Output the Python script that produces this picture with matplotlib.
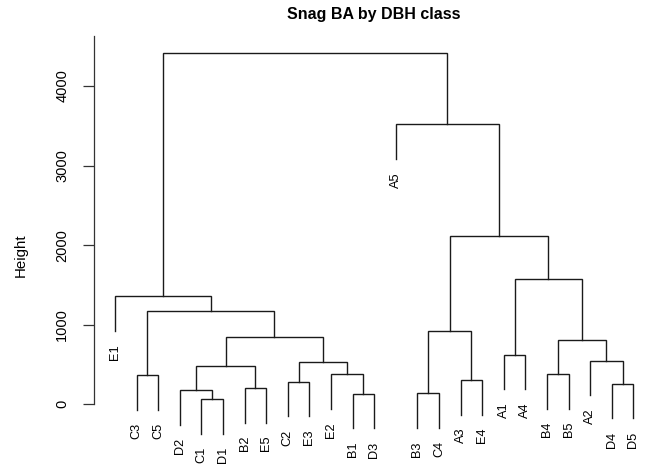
import matplotlib
matplotlib.use("Agg")
import matplotlib.pyplot as plt

# Agglomeration steps: each step joins two members (a leaf name or the
# 1-based number of an earlier step) at the given height.
merge_left = ["C1", "B1", "B3", "D2", "B2", "D4", "C2", "A3", "C3", "E2", "B4", 4,
              7, "A2", "A1", 11, 12, 3, 9, "E1", 15, 18, "A5", 20]
merge_right = ["D1", "D3", "C4", 1, "E5", "D5", "E3", "E4", "C5", 2, "B5", 5,
               10, 6, "A4", 14, 13, 8, 17, 19, 16, 21, 22, 23]
merge_height = [66, 134, 138, 176, 205, 259, 284, 305, 368, 377, 380, 481,
                535, 548, 623, 812, 849, 921, 1176, 1360, 1574, 2114, 3521, 4417]

y_ticks = [0, 1000, 2000, 3000, 4000]
hang = 0.1

plt.rcParams["font.family"] = ["Liberation Sans", "DejaVu Sans"]
line_col = "#1a1a1a"

fig = plt.figure(figsize=(6.45, 4.69), dpi=100)
ax = fig.add_axes([94.3 / 645, (469 - 404.3) / 469, (645 - 94.3) / 645, (404.3 - 35.7) / 469])

hang_len = hang * (max(merge_height) - min(merge_height))

# order leaves by walking the tree from the root
leaf_x = {}


def walk(node):
    if isinstance(node, str):
        leaf_x[node] = len(leaf_x) + 1
        return
    walk(merge_left[node - 1])
    walk(merge_right[node - 1])


walk(len(merge_height))

node_x = {}


def member_x(m):
    return leaf_x[m] if isinstance(m, str) else node_x[m]


for i, (a, b, h) in enumerate(zip(merge_left, merge_right, merge_height), start=1):
    xa, xb = member_x(a), member_x(b)
    node_x[i] = (xa + xb) / 2
    ya = h - hang_len if isinstance(a, str) else merge_height[a - 1]
    yb = h - hang_len if isinstance(b, str) else merge_height[b - 1]
    ax.plot([xa, xa, xb, xb], [ya, h, h, yb], color=line_col, lw=1.0,
            solid_joinstyle="miter", clip_on=False)
    for m, x, y in ((a, xa, ya), (b, xb, yb)):
        if isinstance(m, str):
            ax.annotate(m, (x, y), xytext=(0, -9.5), textcoords="offset points",
                        rotation=90, ha="center", va="top", fontsize=9.2,
                        color="black", annotation_clip=False)

n = len(leaf_x)
ax.set_xlim(1 - 20.7 / 21.6, n + 11.7 / 21.6)
ax.set_ylim(0, 4631)
ax.set_xticks([])
ax.set_yticks(y_ticks)
ax.set_yticklabels([str(t) for t in y_ticks], rotation=90, va="center", fontsize=10.5)
ax.tick_params(axis="y", length=8, width=0.9, pad=10, color="#333333")
for s in ("top", "right", "bottom"):
    ax.spines[s].set_visible(False)
ax.spines["left"].set_color("#333333")
ax.spines["left"].set_linewidth(0.9)
ax.spines["left"].set_bounds(0, 4631)

fig.text(20.5 / 645, 1 - 255 / 469, "Height", rotation=90, ha="center", va="center", fontsize=10.8)
fig.text(374 / 645, 1 - 15 / 469, "Snag BA by DBH class", ha="center", va="center",
         fontsize=11.5, fontweight="bold")

fig.savefig("out.png", dpi=100)
